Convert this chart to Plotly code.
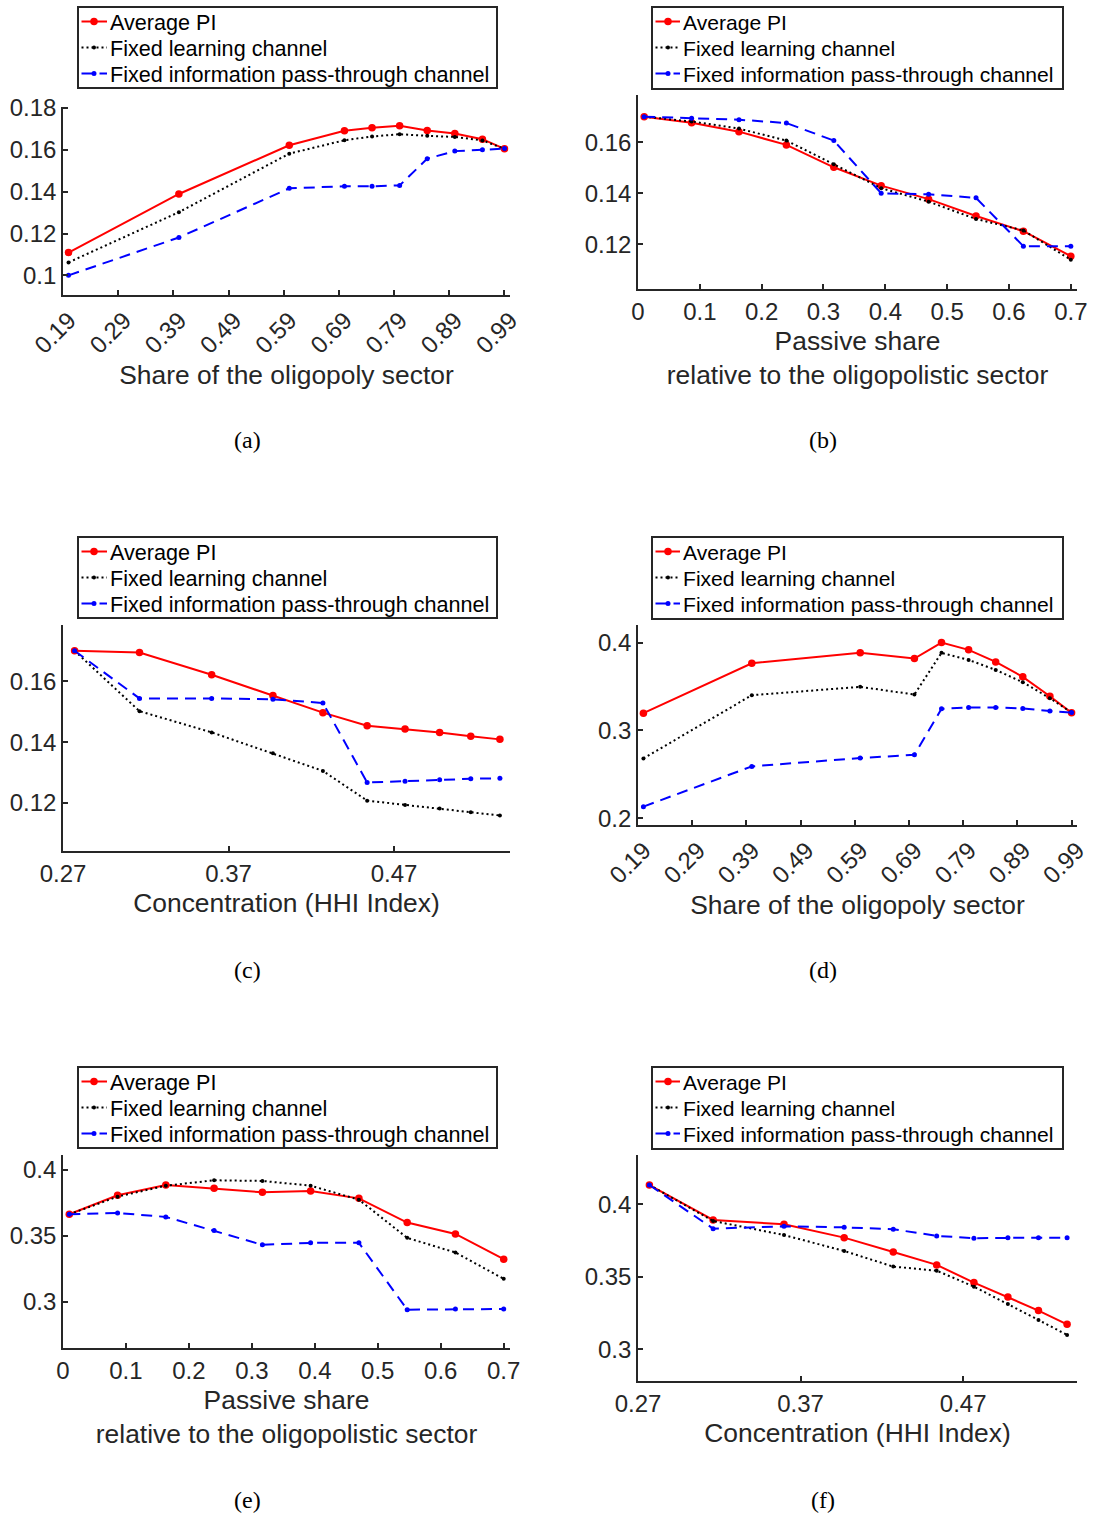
import plotly.graph_objects as go

# ---- x positions of the simulated scenarios ----
share_x = [0.2, 0.4, 0.6, 0.7, 0.75, 0.8, 0.85, 0.9, 0.95, 0.99]
passive_x = [0.01, 0.0867, 0.1633, 0.24, 0.3167, 0.3933, 0.47, 0.5467, 0.6233, 0.70]
hhi_x = [0.277, 0.3162, 0.3598, 0.3968, 0.4270, 0.4537, 0.4766, 0.4975, 0.5163, 0.5339]

# ---- panel (a) ----
a_avg = [0.1109, 0.1389, 0.1622, 0.1691, 0.1706, 0.1715, 0.1693, 0.1678, 0.1651, 0.1605]
a_learn = [0.1062, 0.1302, 0.1582, 0.1646, 0.1664, 0.1675, 0.1667, 0.1662, 0.1645, 0.1605]
a_pass = [0.1000, 0.1181, 0.1416, 0.1426, 0.1426, 0.1430, 0.1558, 0.1594, 0.1600, 0.1606]

# ---- panel (b) ----
b_avg = [0.1701, 0.1677, 0.1642, 0.1590, 0.1502, 0.1430, 0.1377, 0.1311, 0.1251, 0.1153]
b_learn = [0.1701, 0.1682, 0.1654, 0.1607, 0.1514, 0.1420, 0.1367, 0.1299, 0.1254, 0.1139]
b_pass = [0.1701, 0.1695, 0.1689, 0.1676, 0.1607, 0.1400, 0.1396, 0.1382, 0.1192, 0.1192]

# ---- panel (c) ----
c_avg = [0.1701, 0.1695, 0.1622, 0.1554, 0.1497, 0.1454, 0.1443, 0.1432, 0.1419, 0.1409]
c_learn = [0.1701, 0.1502, 0.1432, 0.1363, 0.1305, 0.1207, 0.1193, 0.1181, 0.1169, 0.1158]
c_pass = [0.1701, 0.1544, 0.1544, 0.1541, 0.1529, 0.1267, 0.1271, 0.1276, 0.1279, 0.1281]

# ---- panel (d) ----
d_avg = [0.3197, 0.3765, 0.3883, 0.3818, 0.4000, 0.3917, 0.3780, 0.3610, 0.3390, 0.3200]
d_learn = [0.2682, 0.3401, 0.3496, 0.3409, 0.3883, 0.3803, 0.3689, 0.3549, 0.3367, 0.3204]
d_pass = [0.2133, 0.2591, 0.2686, 0.2723, 0.3246, 0.3261, 0.3261, 0.3250, 0.3220, 0.3204]

# ---- panel (e) ----
e_avg = [0.3664, 0.3808, 0.3886, 0.3861, 0.3831, 0.3841, 0.3785, 0.3601, 0.3515, 0.3323]
e_learn = [0.3664, 0.3798, 0.3881, 0.3922, 0.3917, 0.3881, 0.3775, 0.3485, 0.3374, 0.3174]
e_pass = [0.3664, 0.3674, 0.3644, 0.3540, 0.3432, 0.3447, 0.3447, 0.2940, 0.2945, 0.2945]

# ---- panel (f) ----
f_avg = [0.4133, 0.3892, 0.3862, 0.3770, 0.3671, 0.3582, 0.3460, 0.3361, 0.3267, 0.3172]
f_learn = [0.4133, 0.3885, 0.3788, 0.3678, 0.3570, 0.3542, 0.3432, 0.3313, 0.3202, 0.3099]
f_pass = [0.4133, 0.3832, 0.3848, 0.3841, 0.3828, 0.3782, 0.3766, 0.3770, 0.3770, 0.3770]

series_names = ["Average PI", "Fixed learning channel", "Fixed information pass-through channel"]

share_ticks = [0.19, 0.29, 0.39, 0.49, 0.59, 0.69, 0.79, 0.89, 0.99]
share_ticklabels = ["0.19", "0.29", "0.39", "0.49", "0.59", "0.69", "0.79", "0.89", "0.99"]
passive_ticks = [0, 0.1, 0.2, 0.3, 0.4, 0.5, 0.6, 0.7]
passive_ticklabels = ["0", "0.1", "0.2", "0.3", "0.4", "0.5", "0.6", "0.7"]
hhi_ticks = [0.27, 0.37, 0.47]
hhi_ticklabels = ["0.27", "0.37", "0.47"]

share_title = "Share of the oligopoly sector"
passive_title = "Passive share<br>relative to the oligopolistic sector"
hhi_title = "Concentration (HHI Index)"

W, H = 1102, 1518
SANS = "Liberation Sans, Arial, Helvetica, sans-serif"
SERIF = "Liberation Serif, Times New Roman, serif"
INK = "#262626"

# panel: (label, x, series, x ticks, tick labels, x range, y ticks, y range, x title,
#         rotated ticks, plot box px [left, right, top, bottom],
#         legend box px [left, top, right, bottom, text offset, text size], caption center px)
panels = [
    ("a", share_x, (a_avg, a_learn, a_pass), share_ticks, share_ticklabels, [0.19, 1.0],
     [0.10, 0.12, 0.14, 0.16, 0.18], [0.0906, 0.1805], share_title, True,
     [63, 510, 107, 295], [78, 7, 497, 88, 30, 21.6], [247, 440]),
    ("b", passive_x, (b_avg, b_learn, b_pass), passive_ticks, passive_ticklabels, [0, 0.71],
     [0.12, 0.14, 0.16], [0.1024, 0.1786], passive_title, False,
     [638, 1077, 95, 289], [652, 7, 1063, 89, 29, 21.1], [823, 440]),
    ("c", hhi_x, (c_avg, c_learn, c_pass), hhi_ticks, hhi_ticklabels, [0.27, 0.54],
     [0.12, 0.14, 0.16], [0.1041, 0.1786], hhi_title, False,
     [63, 510, 625, 851], [78, 537, 497, 618, 30, 21.6], [247, 970]),
    ("d", share_x, (d_avg, d_learn, d_pass), share_ticks, share_ticklabels, [0.19, 1.0],
     [0.2, 0.3, 0.4], [0.1924, 0.420], share_title, True,
     [638, 1077, 625, 825], [652, 537, 1063, 619, 29, 21.1], [823, 970]),
    ("e", passive_x, (e_avg, e_learn, e_pass), passive_ticks, passive_ticklabels, [0, 0.71],
     [0.30, 0.35, 0.40], [0.2649, 0.4114], passive_title, False,
     [63, 510, 1155, 1348], [78, 1067, 497, 1148, 30, 21.6], [247, 1500]),
    ("f", hhi_x, (f_avg, f_learn, f_pass), hhi_ticks, hhi_ticklabels, [0.27, 0.54],
     [0.30, 0.35, 0.40], [0.2781, 0.434], hhi_title, False,
     [638, 1077, 1155, 1381], [652, 1067, 1063, 1149, 29, 21.1], [823, 1500]),
]

# line / marker style of each series (solid-o, dotted-., dashed-.)
colors = ["#ff0000", "#000000", "#0000ff"]
dashes = ["solid", "2px,3px", "11px,7px"]
marker_sizes = [7.5, 4, 5]


def fx(px):
    return px / W


def fy(py):
    return 1 - py / H


fig = go.Figure()
shapes, annotations = [], []
layout = dict(
    template="none",
    width=W, height=H,
    margin=dict(l=0, r=0, t=0, b=0, autoexpand=False),
    paper_bgcolor="white", plot_bgcolor="white",
    font=dict(family=SANS, color=INK, size=24),
    showlegend=False,
)

for i, (lab, xs, ys, xt, xtl, xr, yt, yr, xtitle, rot, box, leg, cap) in enumerate(panels):
    n = "" if i == 0 else str(i + 1)
    xa, ya = "x" + n, "y" + n
    for name, vals, col, dsh, ms in zip(series_names, ys, colors, dashes, marker_sizes):
        fig.add_trace(go.Scatter(
            x=xs, y=vals, name=name, mode="lines+markers",
            xaxis=xa, yaxis=ya,
            line=dict(color=col, width=2, dash=dsh),
            marker=dict(symbol="circle", size=ms, color=col)))
    l, r, t, b = box
    axis_common = dict(
        showline=True, linecolor=INK, linewidth=1.6,
        ticks="inside", ticklen=5, tickwidth=1.5, tickcolor=INK,
        showgrid=False, zeroline=False, mirror=False, automargin=False,
        tickfont=dict(size=24, color=INK, family=SANS),
    )
    layout["xaxis" + n] = dict(
        domain=[fx(l), fx(r)], anchor=ya, range=xr,
        tickmode="array", tickvals=xt, ticktext=xtl,
        tickangle=-45 if rot else 0,
        ticklabelshift=6 if rot else 0,
        title=dict(text=xtitle, font=dict(size=26.4, color=INK, family=SANS), standoff=8),
        **axis_common)
    layout["yaxis" + n] = dict(
        domain=[fy(b), fy(t)], anchor=xa, range=yr,
        tickmode="array", tickvals=yt,
        **axis_common)

    # legend box drawn above the data
    L, T, R, B, toff, tsize = leg
    shapes.append(dict(type="rect", xref="paper", yref="paper",
                       x0=fx(L), x1=fx(R), y0=fy(B), y1=fy(T),
                       line=dict(color=INK, width=2), fillcolor="white", layer="above"))
    for k, (name, col, dsh, ms) in enumerate(zip(series_names, colors, dashes, marker_sizes)):
        ry = T + 14.5 + 26 * k
        shapes.append(dict(type="line", xref="paper", yref="paper",
                           x0=fx(L + 3.5), x1=fx(L + toff - 1), y0=fy(ry), y1=fy(ry),
                           line=dict(color=col, width=2, dash=dsh), layer="above"))
        rad = ms / 2
        cx = L + 16
        shapes.append(dict(type="circle", xref="paper", yref="paper",
                           x0=fx(cx - rad), x1=fx(cx + rad), y0=fy(ry + rad), y1=fy(ry - rad),
                           line=dict(color=col, width=0), fillcolor=col, layer="above"))
        annotations.append(dict(text=name, x=fx(L + toff), y=fy(ry + 1), xref="paper", yref="paper",
                                showarrow=False, xanchor="left", yanchor="middle",
                                font=dict(family=SANS, size=tsize, color="#000000")))

    annotations.append(dict(
        text="(" + lab + ")", x=fx(cap[0]), y=fy(cap[1]),
        xref="paper", yref="paper", showarrow=False,
        xanchor="center", yanchor="middle",
        font=dict(family=SERIF, size=24, color="#000000"),
    ))

layout["shapes"] = shapes
layout["annotations"] = annotations
fig.update_layout(**layout)
fig.write_html("out.html")
